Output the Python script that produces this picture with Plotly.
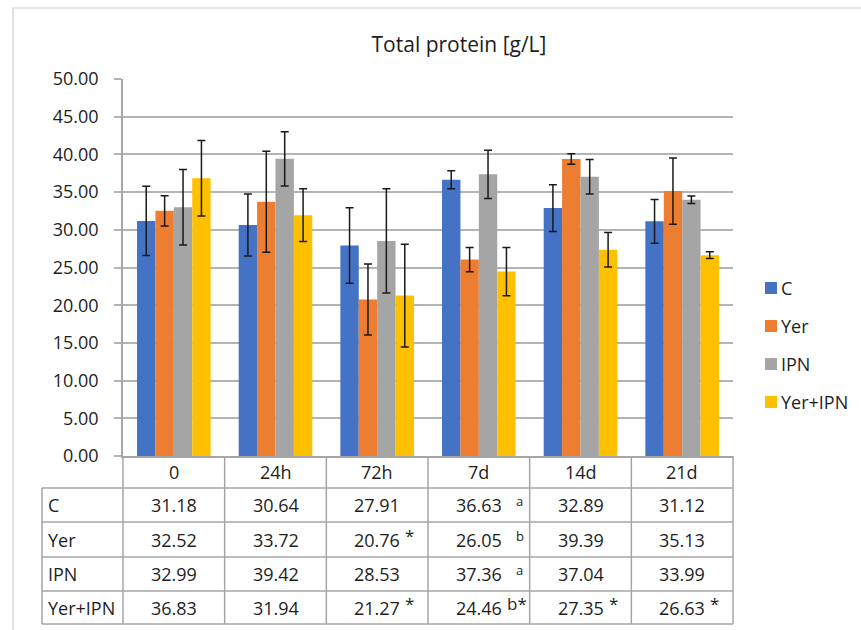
import plotly.graph_objects as go

# Sampling times and groups
times = ["0", "24h", "72h", "7d", "14d", "21d"]
groups = ["C", "Yer", "IPN", "Yer+IPN"]

# Mean total protein [g/L]
mean_c = [31.18, 30.64, 27.91, 36.63, 32.89, 31.12]
mean_yer = [32.52, 33.72, 20.76, 26.05, 39.39, 35.13]
mean_ipn = [32.99, 39.42, 28.53, 37.36, 37.04, 33.99]
mean_yer_ipn = [36.83, 31.94, 21.27, 24.46, 27.35, 26.63]

# Standard deviations (error bars)
sd_c = [4.6, 4.1, 5.0, 1.2, 3.1, 2.9]
sd_yer = [2.0, 6.7, 4.7, 1.6, 0.7, 4.4]
sd_ipn = [5.0, 3.6, 6.9, 3.2, 2.3, 0.5]
sd_yer_ipn = [5.0, 3.5, 6.8, 3.2, 2.3, 0.45]

# Significance marks shown next to table values
marks_c = ["", "", "", "a", "", ""]
marks_yer = ["", "", "*", "b", "", ""]
marks_ipn = ["", "", "", "a", "", ""]
marks_yer_ipn = ["", "", "*", "b*", "*", "*"]

colors = ["#4472C4", "#ED7D31", "#A5A5A5", "#FFC000"]
means = [mean_c, mean_yer, mean_ipn, mean_yer_ipn]
sds = [sd_c, sd_yer, sd_ipn, sd_yer_ipn]
marks = [marks_c, marks_yer, marks_ipn, marks_yer_ipn]

FONT = "Open Sans"
TXT = "#1e1e1e"
GRID = "#b4b4b4"
LINE = "#a6a6a6"
FS = 18

W, H = 861, 630
L, R, T, B = 123, 128, 79, 174
PW, PH = W - L - R, H - T - B


def px(xp):
    return (xp - L) / PW


def py(yp):
    return (H - B - yp) / PH


def label(**kw):
    base = dict(showarrow=False, yanchor="middle")
    base.update(kw)
    return base


fig = go.Figure()
for name, vals, err, col in zip(groups, means, sds, colors):
    fig.add_trace(go.Bar(
        name=name, x=times, y=vals, marker=dict(color=col, line=dict(width=0)),
        error_y=dict(type="data", array=err, color="#1a1a1a", thickness=1.5, width=4),
        showlegend=False,
    ))

shapes = []
annotations = []

# Outer chart frame
shapes.append(dict(type="rect", xref="paper", yref="paper",
                   x0=px(13), x1=px(900), y0=py(680), y1=py(8),
                   line=dict(color="#d0d0d0", width=1.2), layer="below"))

# Data table grid
row_y = [488, 522, 557, 591, 624]
for yy in row_y:
    shapes.append(dict(type="line", xref="paper", yref="paper",
                       x0=px(42), x1=1, y0=py(yy), y1=py(yy),
                       line=dict(color=LINE, width=1.5)))
for i in range(len(times) + 1):
    shapes.append(dict(type="line", xref="paper", yref="paper",
                       x0=i / len(times), x1=i / len(times), y0=py(456), y1=py(624),
                       line=dict(color=LINE, width=1.5)))
shapes.append(dict(type="line", xref="paper", yref="paper",
                   x0=px(42), x1=px(42), y0=py(488), y1=py(624),
                   line=dict(color=LINE, width=1.5)))

# Column headers
for t in times:
    annotations.append(label(x=t, xref="x", xanchor="center", y=py(472), yref="paper",
                             text=t, font=dict(family=FONT, size=FS, color=TXT)))

# Table rows
row_centers = [505, 539.5, 574, 607.5]
for g, vals, mk, yc in zip(groups, means, marks, row_centers):
    annotations.append(label(x=px(46), xref="paper", xanchor="left", y=py(yc), yref="paper",
                             text=g, font=dict(family=FONT, size=FS, color=TXT)))
    for t, v, m in zip(times, vals, mk):
        annotations.append(label(x=t, xref="x", xanchor="center", y=py(yc), yref="paper",
                                 text=f"{v:.2f}", font=dict(family=FONT, size=FS, color=TXT)))
        if m:
            gap = 35 if m in ("a", "b") else 26
            size = 13 if m in ("a", "b") else 17
            annotations.append(label(x=t, xref="x", xanchor="left", xshift=gap,
                                     y=py(yc - 4), yref="paper", text=m,
                                     font=dict(family=FONT, size=size, color=TXT)))

# Legend
leg_y = [288, 326, 364, 402]
for g, col, yc in zip(groups, colors, leg_y):
    shapes.append(dict(type="rect", xref="paper", yref="paper",
                       x0=px(765), x1=px(777), y0=py(yc + 6), y1=py(yc - 6),
                       fillcolor=col, line=dict(width=0)))
    annotations.append(label(x=px(779), xref="paper", xanchor="left", y=py(yc), yref="paper",
                             text=g, font=dict(family=FONT, size=FS, color=TXT)))

fig.update_layout(
    width=W, height=H,
    margin=dict(l=L, r=R, t=T, b=B),
    paper_bgcolor="white", plot_bgcolor="white",
    barmode="group", bargap=0.276, bargroupgap=0,
    title=dict(text="Total protein [g/L]", x=459 / W, xanchor="center",
               y=1 - 45 / H, yanchor="middle",
               font=dict(family=FONT, size=21, color=TXT)),
    xaxis=dict(showticklabels=False, showline=True, linecolor=LINE, linewidth=1.5,
               ticks="", showgrid=False),
    yaxis=dict(range=[0, 50], dtick=5, tickformat=".2f", showgrid=True,
               gridcolor=GRID, gridwidth=1.5, showline=True, linecolor=LINE, linewidth=1.5,
               ticks="outside", ticklen=7, tickcolor=GRID, tickwidth=1.5,
               ticklabelstandoff=12, zeroline=False,
               tickfont=dict(family=FONT, size=FS, color=TXT)),
    shapes=shapes, annotations=annotations,
)

fig.write_html("out.html")
